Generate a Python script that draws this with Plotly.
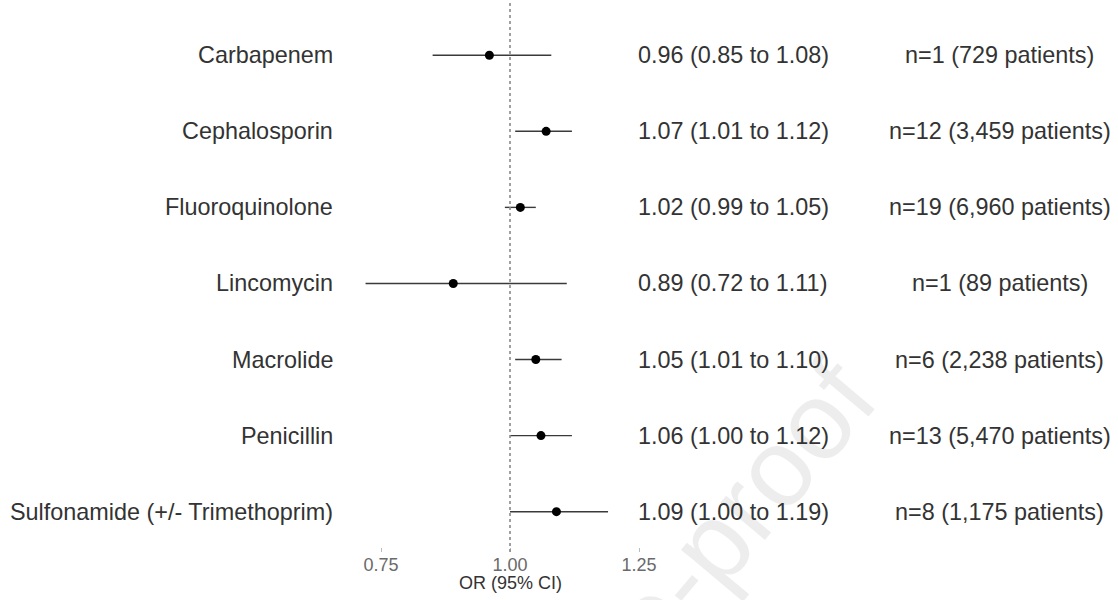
import plotly.graph_objects as go

drugs = ["Carbapenem", "Cephalosporin", "Fluoroquinolone", "Lincomycin",
         "Macrolide", "Penicillin", "Sulfonamide (+/- Trimethoprim)"]
or_est = [0.96, 1.07, 1.02, 0.89, 1.05, 1.06, 1.09]
ci_low = [0.85, 1.01, 0.99, 0.72, 1.01, 1.00, 1.00]
ci_high = [1.08, 1.12, 1.05, 1.11, 1.10, 1.12, 1.19]
n_studies = [1, 12, 19, 1, 6, 13, 8]
n_patients = ["729", "3,459", "6,960", "89", "2,238", "5,470", "1,175"]
tick_vals = [0.75, 1.00, 1.25]
tick_text = ["0.75", "1.00", "1.25"]

FONT = "Liberation Sans, Arial, Helvetica, sans-serif"
TXT = "#333333"

fig = go.Figure()

# watermark (behind everything else)
fig.add_annotation(x=0.771, xref="paper", y=-0.270, yref="paper", text="Journal Pre-proof",
                   showarrow=False, textangle=-50, xanchor="center", yanchor="middle",
                   font=dict(family=FONT, size=110, color="rgba(0,0,0,0.07)"))

for i, d in enumerate(drugs):
    fig.add_trace(go.Scatter(
        x=[ci_low[i], ci_high[i]], y=[i, i], mode="lines",
        line=dict(color="#3a3a3a", width=1.4), hoverinfo="skip", showlegend=False))

fig.add_trace(go.Scatter(
    x=or_est, y=list(range(len(drugs))), mode="markers",
    marker=dict(color="black", size=9), showlegend=False))

# reference line
fig.add_shape(type="line", x0=1.0, x1=1.0, xref="x", y0=0, y1=1, yref="paper",
              line=dict(color="#8a8a8a", width=1.6, dash="3px,3px"))

for i, d in enumerate(drugs):
    fig.add_annotation(x=-0.0161, xref="x domain", y=i, yref="y",
                       text=d, showarrow=False, xanchor="right", yanchor="middle",
                       font=dict(family=FONT, size=23.4, color=TXT))
    fig.add_annotation(x=0.9548, xref="x domain", y=i, yref="y",
                       text=f"{or_est[i]:.2f} ({ci_low[i]:.2f} to {ci_high[i]:.2f})",
                       showarrow=False, xanchor="left", yanchor="middle",
                       font=dict(family=FONT, size=23.4, color=TXT))
    fig.add_annotation(x=2.129, xref="x domain", y=i, yref="y",
                       text=f"n={n_studies[i]} ({n_patients[i]} patients)",
                       showarrow=False, xanchor="center", yanchor="middle",
                       font=dict(family=FONT, size=23.4, color=TXT))

fig.add_annotation(x=1.0, xref="x", y=-0.056, yref="paper", text="OR (95% CI)",
                   showarrow=False, xanchor="center", yanchor="middle",
                   font=dict(family=FONT, size=18, color=TXT))

fig.update_layout(
    width=1118, height=600,
    margin=dict(l=340, r=468, t=0, b=48),
    paper_bgcolor="white", plot_bgcolor="white",
    xaxis=dict(range=[0.6705, 1.2713], tickvals=tick_vals, ticktext=tick_text,
               showgrid=False, zeroline=False, showline=False,
               ticks="inside", ticklen=4, tickcolor="#bbbbbb",
               tickfont=dict(family=FONT, size=18, color="#6a6a6a")),
    yaxis=dict(range=[6.53, -0.726], showgrid=False, zeroline=False,
               showticklabels=False, showline=False),
    showlegend=False,
)

fig.write_html("out.html", post_script="document.body.style.margin='0';",
               config={"displayModeBar": False})
